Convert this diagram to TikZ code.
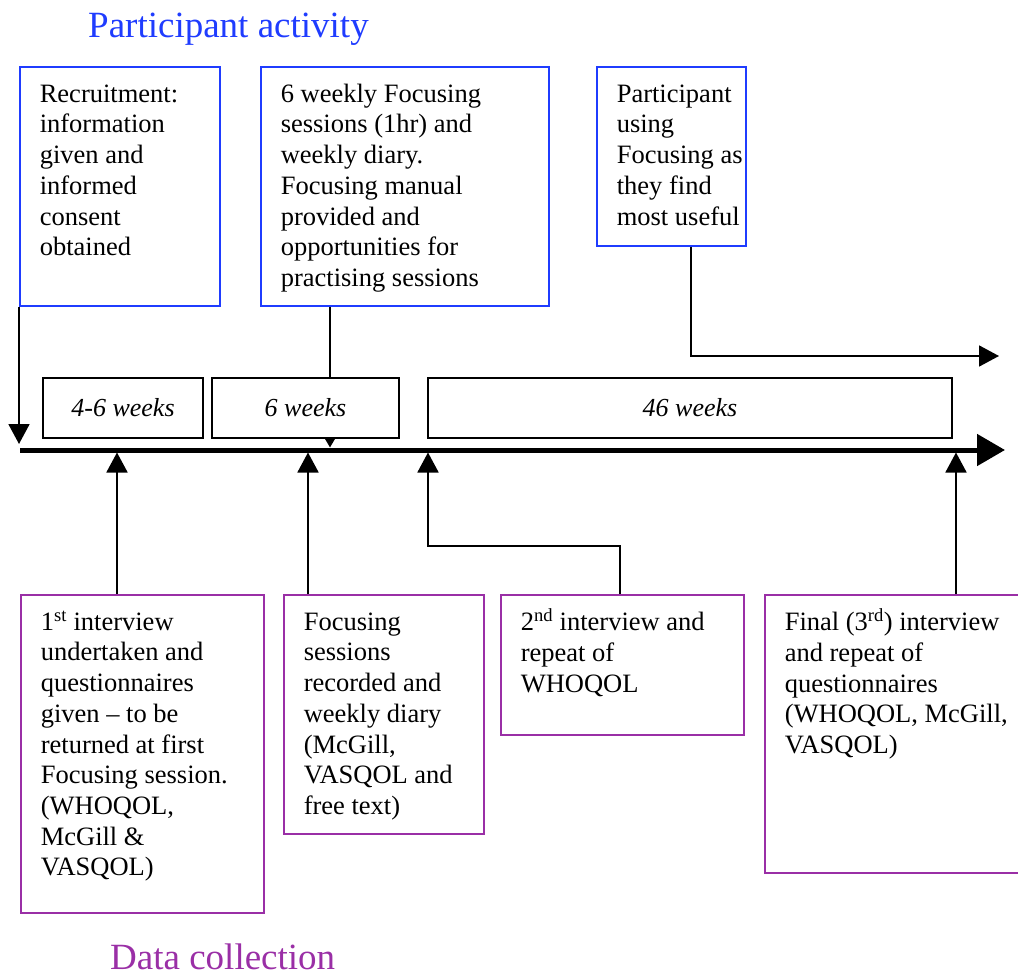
\documentclass[tikz,border=0pt]{standalone}
\usepackage{fontspec}
\setmainfont{Liberation Serif}
\usetikzlibrary{positioning, arrows.meta}
\definecolor{actblue}{HTML}{1F3CFF}
\definecolor{datapurple}{HTML}{9A2FA6}
\newcommand{\boxtxt}[3]{\parbox[t][#1pt][t]{#2pt}{\raggedright\hyphenpenalty=10000\strut #3}}

\begin{document}
\begin{tikzpicture}[x=1pt,y=-1pt,
  every node/.style={font=\fontsize{26.5}{30.7}\selectfont},
  actbox/.style={draw=actblue,line width=1.6pt,inner xsep=20pt,inner ysep=14pt,anchor=north west},
  databox/.style={draw=datapurple,line width=1.6pt,inner xsep=20pt,inner ysep=14pt,anchor=north west},
  week/.style={draw,line width=1.5pt,minimum height=60pt,inner sep=0pt,
               font=\fontsize{26}{30}\selectfont\itshape},
  title/.style={anchor=base west,inner sep=0pt,font=\fontsize{37}{40}\selectfont},
  conn/.style={line width=1.8pt},
  big/.style={-{Triangle[length=20pt,width=21pt]}}]
  \clip (0,0) rectangle (1018,976);
  \node[title,text=actblue] (ptitle) at (88,38) {Participant activity};
  \node[title,text=datapurple] (dtitle) at (110,969) {Data collection};
  % participant activity
  \node[actbox] (rec) at (19,66) {\boxtxt{211}{160}{Recruitment:\\ information\\ given and\\ informed\\ consent\\ obtained}};
  \node[actbox] (ses) at (260,66) {\boxtxt{211}{248}{6 weekly Focusing\\ sessions (1hr) and\\ weekly diary.\\ Focusing manual\\ provided and\\ opportunities for\\ practising sessions}};
  \node[actbox] (use) at (596,66) {\boxtxt{151}{109}{\mbox{Participant}\\ using\\ \mbox{Focusing as}\\ \mbox{they find}\\ \mbox{most useful}}};
  % periods
  \node[week,minimum width=160pt] (wk1) at (123,408) {4-6 weeks};
  \node[week,minimum width=187pt] (wk2) at (305.5,408) {6 weeks};
  \node[week,minimum width=524pt] (wk3) at (690,408) {46 weeks};
  % data collection
  \node[databox] (int1) at (20,594) {\boxtxt{290}{203}{1\textsuperscript{st} interview\\ undertaken and\\ questionnaires\\ given – to be\\ returned at first\\ Focusing session.\\ (WHOQOL,\\ McGill \&\\ VASQOL)}};
  \node[databox] (diary) at (283,594) {\boxtxt{211}{160}{Focusing\\ sessions\\ recorded and\\ weekly diary\\ (McGill,\\ VASQOL and\\ free text)}};
  \node[databox] (int2) at (500,594) {\boxtxt{112}{203}{2\textsuperscript{nd} interview and\\ repeat of\\ WHOQOL}};
  \node[databox] (int3) at (764,594) {\boxtxt{250}{236}{Final (3\textsuperscript{rd}) interview\\ and repeat of\\ questionnaires\\ (WHOQOL, McGill,\\ VASQOL)}};
  % timeline
  \coordinate (t0) at (20,450);
  \coordinate (t1) at (1005,450);
  \draw[line width=5pt,-{Triangle[length=28pt,width=31pt]}] (t0) -- (t1);
  \coordinate (s1) at (330,450);
  \coordinate (u1) at (691,356);
  \coordinate (u2) at (999,356);
  \coordinate (a1) at (117,450);
  \coordinate (a2) at (308,450);
  \coordinate (a3) at (428,450);
  \coordinate (a4) at (956,450);
  \coordinate (k) at (620,546);
  \draw[conn,big,shorten >=6pt] (rec.south west) -- (rec.south west |- t0);
  \draw[conn] (ses.south -| s1) -- (wk2.north -| s1);
  \draw[conn,-{Triangle[length=9pt,width=10pt]},shorten >=2.5pt] (wk2.south -| s1) -- (s1);
  \draw[conn,big] (use.south -| u1) |- (u2);
  \draw[conn,big,shorten >=2.5pt] (int1.north -| a1) -- (a1);
  \draw[conn,big,shorten >=2.5pt] (diary.north -| a2) -- (a2);
  \draw[conn,big,shorten >=2.5pt] (int2.north -| k) -- (k) -| (a3);
  \draw[conn,big,shorten >=2.5pt] (int3.north -| a4) -- (a4);
\end{tikzpicture}
\end{document}
